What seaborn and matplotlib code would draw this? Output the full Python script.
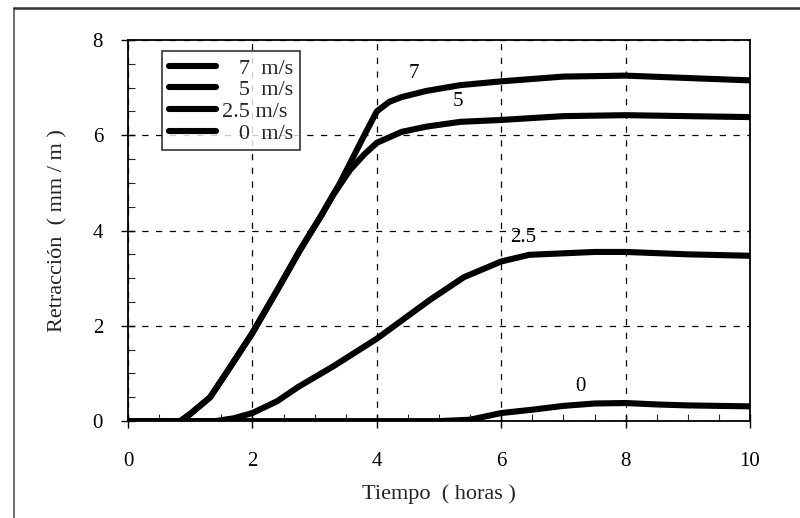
import matplotlib
matplotlib.use("Agg")
import matplotlib.pyplot as plt
import seaborn as sns
import pandas as pd
from matplotlib.ticker import MultipleLocator
from matplotlib.lines import Line2D

sns.set_theme(style="ticks")
plt.rcParams['font.family'] = ['Liberation Serif', 'DejaVu Serif']

# Data
t_7 = [0, 0.84, 1.0, 1.32, 1.6, 2.0, 2.4, 2.77, 3.1, 3.41, 3.76, 4.0, 4.2, 4.4, 4.8, 5.34, 6.0, 7.0, 8.0, 9.0, 10.0]
y_7 = [0, 0, 0.15, 0.5, 1.05, 1.85, 2.75, 3.6, 4.3, 5.0, 5.9, 6.5, 6.7, 6.8, 6.93, 7.05, 7.13, 7.23, 7.25, 7.2, 7.15]
t_5 = [0, 0.84, 1.0, 1.32, 1.6, 2.0, 2.4, 2.77, 3.1, 3.3, 3.57, 3.8, 4.0, 4.4, 4.8, 5.34, 6.0, 7.0, 8.0, 9.0, 10.0]
y_5 = [0, 0, 0.15, 0.5, 1.05, 1.85, 2.75, 3.6, 4.3, 4.75, 5.27, 5.6, 5.84, 6.07, 6.18, 6.28, 6.32, 6.4, 6.42, 6.4, 6.38]
t_25 = [0, 1.4, 1.7, 2.0, 2.4, 2.74, 3.3, 4.0, 4.86, 5.4, 6.0, 6.45, 7.5, 8.0, 9.0, 10.0]
y_25 = [0, 0, 0.06, 0.17, 0.42, 0.72, 1.15, 1.73, 2.55, 3.02, 3.35, 3.49, 3.55, 3.55, 3.5, 3.47]
t_0 = [0, 5.0, 5.5, 6.0, 6.5, 7.0, 7.5, 8.0, 8.5, 9.0, 9.5, 10.0]
y_0 = [0, 0, 0.03, 0.17, 0.24, 0.32, 0.37, 0.38, 0.35, 0.33, 0.32, 0.31]

labels = ["   7  m/s", "   5  m/s", "2.5 m/s", "   0  m/s"]
curve_labels = ["7", "5", "2.5", "0"]
label_pos_x = [4.6, 5.3, 6.35, 7.28]
label_pos_y = [7.3, 6.7, 3.85, 0.72]

x_ticks = [0, 2, 4, 6, 8, 10]
y_ticks = [0, 2, 4, 6, 8]

frames = []
for t, y, lab in zip([t_7, t_5, t_25, t_0], [y_7, y_5, y_25, y_0], labels):
    frames.append(pd.DataFrame({"Tiempo": t, "Retraccion": y, "serie": lab}))
df = pd.concat(frames, ignore_index=True)

fig = plt.figure(figsize=(8.0, 5.18), dpi=100)
ax = fig.add_axes([0.16, 0.187, 0.7775, 0.736])

sns.lineplot(data=df, x="Tiempo", y="Retraccion", hue="serie", hue_order=labels,
             palette=["black"] * 4, linewidth=4.4, ax=ax, legend=False, sort=False)
for ln in ax.lines:
    ln.set_solid_joinstyle('round')
    ln.set_solid_capstyle('butt')

ax.set_xlim(0, 10)
ax.set_ylim(0, 8)
ax.set_xticks(x_ticks)
ax.set_yticks(y_ticks)
ax.xaxis.set_minor_locator(MultipleLocator(0.5))
ax.yaxis.set_minor_locator(MultipleLocator(0.5))
ax.tick_params(axis='both', which='major', direction='inout', length=10, width=1,
               labelsize=15, colors='black')
ax.tick_params(axis='x', which='major', pad=17)
ax.tick_params(axis='y', which='major', pad=13)
ax.tick_params(axis='both', which='minor', direction='in', length=5, width=0.8)
ax.grid(True, which='major', linestyle=(0, (5, 6)), color='black', linewidth=0.9)
for s in ax.spines.values():
    s.set_color('black')
    s.set_linewidth(1.3)

ax.set_xlabel("Tiempo  ( horas )", fontsize=16, color='#222222', labelpad=10)
ax.set_ylabel("Retracción  ( mm / m )", fontsize=16, color='#222222', labelpad=18)

for txt, px, py in zip(curve_labels, label_pos_x, label_pos_y):
    ax.text(px, py, txt, fontsize=15, color='black', ha='center', va='center')

handles = [Line2D([0], [0], color='black', linewidth=4.4) for _ in labels]
leg = ax.legend(handles, labels, loc='upper left', bbox_to_anchor=(0.055, 0.97),
                fontsize=16, frameon=True, fancybox=False, edgecolor='black',
                handlelength=2.1, handletextpad=0.3, borderpad=0.3, labelspacing=0.05,
                borderaxespad=0)
leg.get_frame().set_linewidth(1.2)

# outer scan frame
fig.add_artist(Line2D([0.0175, 0.0175], [0.0, 0.985], color='#555555', linewidth=1.2,
                      transform=fig.transFigure))
fig.add_artist(Line2D([0.0175, 1.0], [0.985, 0.985], color='#333333', linewidth=1.8,
                      transform=fig.transFigure))

fig.savefig("out.png", dpi=100)
